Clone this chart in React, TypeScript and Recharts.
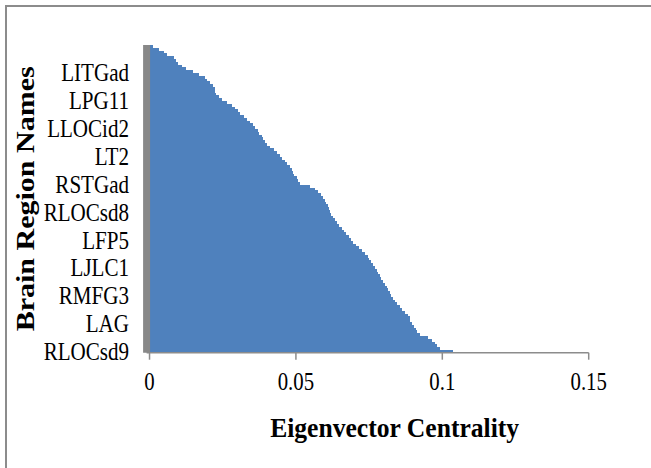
import React from 'react';
import { BarChart, Bar, XAxis, YAxis } from 'recharts';

// Labelled regions shown on the axis (every 10th region, bottom to top)
const regionLabels = ['RLOCsd9', 'LAG', 'RMFG3', 'LJLC1', 'LFP5', 'RLOCsd8', 'RSTGad', 'LT2', 'LLOCid2', 'LPG11', 'LITGad'];

// Eigenvector centrality of each region, bottom (rank 0) to top
const centrality = [
  0.1037, 0.0992, 0.0982, 0.0975, 0.0965, 0.0951, 0.0924, 0.0914, 0.0910, 0.0903,
  0.0897, 0.0891, 0.0890, 0.0883, 0.0874, 0.0864, 0.0856, 0.0845, 0.0838, 0.0833,
  0.0826, 0.0821, 0.0815, 0.0810, 0.0804, 0.0796, 0.0791, 0.0787, 0.0782, 0.0777,
  0.0770, 0.0762, 0.0756, 0.0751, 0.0745, 0.0736, 0.0726, 0.0714, 0.0705, 0.0695,
  0.0688, 0.0680, 0.0671, 0.0664, 0.0656, 0.0647, 0.0640, 0.0634, 0.0625, 0.0620,
  0.0616, 0.0613, 0.0608, 0.0603, 0.0598, 0.0593, 0.0584, 0.0574, 0.0565, 0.0548,
  0.0514, 0.0507, 0.0502, 0.0495, 0.0490, 0.0485, 0.0480, 0.0471, 0.0461, 0.0453,
  0.0446, 0.0437, 0.0425, 0.0413, 0.0401, 0.0393, 0.0388, 0.0383, 0.0374, 0.0369,
  0.0360, 0.0352, 0.0343, 0.0333, 0.0324, 0.0309, 0.0301, 0.0292, 0.0282, 0.0266,
  0.0248, 0.0236, 0.0227, 0.0224, 0.0222, 0.0217, 0.0207, 0.0198, 0.0190, 0.0169,
  0.0149, 0.0125, 0.0111, 0.0097, 0.0089, 0.0082, 0.0060, 0.0048, 0.0032, 0.0012,
];

const xTicks = [0, 0.05, 0.1, 0.15];
const xTickLabels = ['0', '0.05', '0.1', '0.15'];
const xTitle = 'Eigenvector Centrality';
const yTitle = 'Brain Region Names';

const data = centrality.map((v, i) => ({ rank: i, value: v }));

const FONT = "'Liberation Serif', 'Times New Roman', serif";

const YTick = (props: any) => {
  const { x, y, payload } = props;
  const idx = Number(payload.value);
  const label = idx % 10 === 0 ? regionLabels[idx / 10] : undefined;
  if (!label) return <g />;
  return (
    <text
      transform={`translate(${x},${y}) scale(0.81,1)`}
      textAnchor="end"
      dy="0.35em"
      fontFamily={FONT}
      fontSize={26}
      fill="#000"
    >
      {label}
    </text>
  );
};

const XTick = (props: any) => {
  const { x, y, payload } = props;
  const i = xTicks.indexOf(payload.value);
  const label = i >= 0 ? xTickLabels[i] : String(payload.value);
  return (
    <text
      transform={`translate(${x},${y + 28}) scale(0.8,1)`}
      textAnchor="middle"
      fontFamily={FONT}
      fontSize={26}
      fill="#000"
    >
      {label}
    </text>
  );
};

const XTitle = (props: any) => {
  const vb = props.viewBox || { x: 146.6, y: 352.7, width: 442, height: 60 };
  return (
    <text
      x={vb.x + vb.width / 2 + 27}
      y={vb.y + 84}
      textAnchor="middle"
      fontFamily={FONT}
      fontWeight="bold"
      fontSize={28}
      textLength={249}
      lengthAdjust="spacingAndGlyphs"
      fill="#000"
    >
      {xTitle}
    </text>
  );
};

const YTitle = (props: any) => {
  const vb = props.viewBox || { x: 0, y: 45, width: 146.6, height: 307.7 };
  const cy = vb.y + vb.height / 2;
  return (
    <text
      transform={`translate(33.5,${cy}) scale(0.82,1) rotate(-90)`}
      textAnchor="middle"
      fontFamily={FONT}
      fontWeight="bold"
      fontSize={30}
      textLength={265}
      lengthAdjust="spacingAndGlyphs"
      fill="#000"
    >
      {yTitle}
    </text>
  );
};

export default function App() {
  return (
    <div style={{ position: 'absolute', left: 0, top: 0, width: 651, height: 468, background: '#fff', overflow: 'hidden' }}>
      <div
        style={{
          position: 'absolute',
          left: 5,
          top: 5,
          width: 720,
          height: 600,
          borderTop: '2px solid #8c8c8c',
          borderLeft: '2px solid #8c8c8c',
        }}
      />
      <div style={{ position: 'absolute', left: 0, top: 0 }}>
        <BarChart
          width={651}
          height={468}
          data={data}
          layout="vertical"
          margin={{ top: 45, right: 62.3, bottom: 55.3, left: 0 }}
          barCategoryGap={0}
          barGap={0}
        >
          <XAxis
            type="number"
            domain={[-0.001, 0.15]}
            ticks={xTicks}
            allowDataOverflow
            height={60}
            tick={<XTick />}
            tickSize={7}
            tickLine={{ stroke: '#8c8c8c', strokeWidth: 1.5 }}
            axisLine={{ stroke: '#8c8c8c', strokeWidth: 1.5 }}
            label={<XTitle />}
          />
          <YAxis
            type="category"
            dataKey="rank"
            reversed
            width={146.6}
            interval={9}
            tick={<YTick />}
            tickLine={false}
            tickSize={0}
            tickMargin={17.6}
            axisLine={{ stroke: '#888888', strokeWidth: 7 }}
            label={<YTitle />}
          />
          <Bar
            dataKey="value"
            fill="#4f81bd"
            stroke="none"
            shapeRendering="crispEdges"
            isAnimationActive={false}
          />
        </BarChart>
      </div>
    </div>
  );
}
